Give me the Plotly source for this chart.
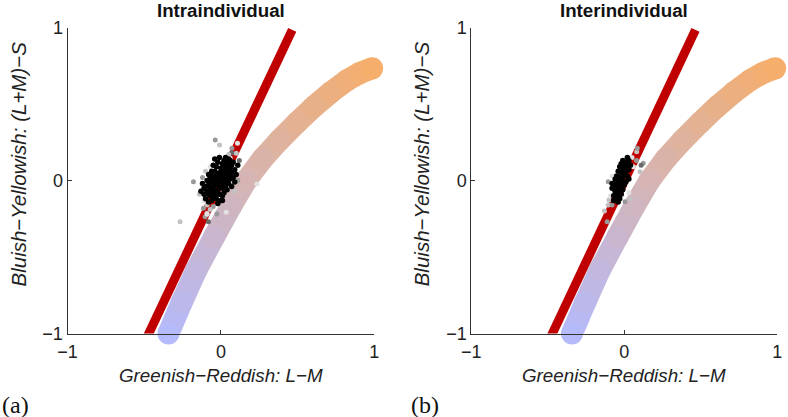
import plotly.graph_objects as go
from plotly.subplots import make_subplots

# ---------------- data ----------------
# model curve (band from bluish to yellowish), same in both panels
curve_x = [-0.342, -0.257, -0.16, -0.045, 0.065, 0.165, 0.27, 0.383, 0.495, 0.605, 0.715, 0.822, 0.91, 0.986]
curve_y = [-1.0, -0.8, -0.585, -0.37, -0.17, 0.0, 0.14, 0.265, 0.378, 0.482, 0.575, 0.655, 0.705, 0.733]

# red model line, same in both panels
red_x = [-0.503, 0.465]
red_y = [-1.07, 0.985]

# panel (a) Intraindividual
a_black_x = [-0.13, -0.12, -0.11, -0.10, -0.10, -0.09, -0.09, -0.08, -0.08, -0.08, -0.07, -0.07, -0.07,
             -0.06, -0.06, -0.06, -0.06, -0.05, -0.05, -0.05, -0.05, -0.04, -0.04, -0.04, -0.04, -0.03,
             -0.03, -0.03, -0.03, -0.02, -0.02, -0.02, -0.02, -0.01, -0.01, -0.01, -0.01, 0.00, 0.00, 0.00,
             0.00, 0.01, 0.01, 0.01, 0.01, 0.02, 0.02, 0.02, 0.02, 0.03, 0.03, 0.03, 0.03, 0.04, 0.04, 0.04,
             0.04, 0.05, 0.05, 0.05, 0.06, 0.06, 0.06, 0.07, 0.07, 0.07, 0.08, 0.08, 0.09, 0.09, 0.10, 0.11,
             -0.05, -0.03, 0.00, 0.03, 0.06, -0.08, -0.02, -0.11, 0.01, 0.05, -0.06, 0.02, -0.04]
a_black_y = [-0.07, -0.02, -0.09, -0.04, -0.12, 0.00, -0.07, -0.14, -0.03, 0.04, -0.10, 0.02, -0.05,
             -0.13, 0.06, -0.01, -0.08, 0.03, -0.04, 0.10, -0.11, 0.14, 0.00, -0.07, 0.06, -0.02,
             0.09, -0.12, 0.03, 0.12, -0.06, 0.01, -0.15, 0.05, -0.03, 0.15, -0.09, 0.08, -0.01, -0.13,
             0.03, 0.11, -0.05, 0.01, -0.10, 0.06, -0.02, 0.13, -0.08, 0.03, 0.09, -0.04, 0.15, 0.00, 0.07, 0.12,
             -0.06, 0.04, 0.10, -0.02, 0.08, 0.01, 0.13, 0.05, -0.04, 0.10, 0.02, 0.12, 0.07, -0.01, 0.04, 0.10,
             -0.07, -0.09, 0.05, 0.06, 0.04, -0.09, 0.04, -0.05, -0.13, 0.14, 0.02, 0.09, -0.03]
a_gray_x = [-0.179, -0.037, -0.009, -0.266, 0.035, -0.026, 0.235, -0.114, -0.091, -0.103, -0.081, 0.072,
            0.10, 0.061, 0.039, 0.108, -0.10, -0.12, -0.07, 0.11, 0.09, -0.05, -0.09, 0.12, -0.11, 0.07,
            -0.14, 0.05, -0.07, -0.09]
a_gray_y = [-0.008, 0.265, 0.232, -0.269, -0.208, -0.219, -0.023, -0.182, -0.214, -0.237, -0.269, 0.21,
            0.178, 0.145, 0.112, 0.243, 0.06, 0.02, 0.09, 0.0, -0.07, -0.17, -0.16, 0.13, -0.13, 0.18,
            -0.09, 0.17, -0.19, -0.22]
a_gray_shade = ['mid', 'mid', 'light', 'light', 'pale', 'mid', 'pale', 'mid', 'light', 'mid', 'dark', 'mid',
                'light', 'pale', 'light', 'pale', 'light', 'mid', 'pale', 'mid', 'light', 'mid', 'light', 'dark',
                'pale', 'dark', 'light', 'light', 'light', 'pale']

# panel (b) Interindividual
b_black_x = [-0.08, -0.07, -0.07, -0.06, -0.06, -0.06, -0.05, -0.05, -0.05, -0.04, -0.04, -0.04, -0.04,
             -0.03, -0.03, -0.03, -0.03, -0.02, -0.02, -0.02, -0.02, -0.01, -0.01, -0.01, -0.01, 0.00, 0.00,
             0.00, 0.01, 0.01, 0.01, 0.02, 0.02, 0.03, 0.03, 0.03, 0.04, -0.06, -0.03, 0.00, -0.08, -0.05,
             0.02, -0.07]
b_black_y = [-0.05, -0.02, -0.10, 0.01, -0.07, -0.13, -0.04, 0.03, -0.11, -0.01, 0.06, -0.08, -0.14,
             0.02, -0.05, 0.09, -0.12, 0.05, -0.02, 0.11, -0.09, 0.00, 0.08, -0.06, 0.13, 0.03, 0.10,
             -0.03, 0.06, 0.12, -0.01, 0.09, 0.03, 0.07, 0.13, 0.01, 0.10, -0.03, -0.02, 0.06, -0.02, -0.13,
             0.15, -0.13]
b_gray_x = [-0.105, 0.081, 0.124, 0.103, -0.028, -0.105, 0.005, -0.08, -0.112, 0.085, -0.10, 0.06, 0.04,
            0.05, -0.09, -0.13, 0.11, 0.08, -0.08, 0.03]
b_gray_y = [-0.008, 0.188, 0.112, 0.058, 0.112, -0.16, -0.139, -0.16, -0.269, 0.21, -0.127, 0.09, -0.12,
            0.15, -0.10, -0.20, 0.10, 0.13, 0.03, -0.08]
b_gray_shade = ['mid', 'light', 'mid', 'light', 'pale', 'light', 'mid', 'mid', 'mid', 'mid', 'light', 'pale',
                'light', 'pale', 'pale', 'light', 'dark', 'mid', 'pale', 'pale']

tick_vals = [-1, 0, 1]
tick_text = ['\u22121', '0', '1']
titles = ['Intraindividual', 'Interindividual']
panel_tags = ['(a)', '(b)']
x_title = 'Greenish\u2212Reddish: L\u2212M'
y_title = 'Bluish\u2212Yellowish: (L+M)\u2212S'

# ---------------- styling ----------------
SHADES = {'dark': '#6a6a6a', 'mid': '#999999', 'light': '#c2c2c2', 'pale': '#e2e2e2'}
C0 = (181, 186, 250)
C1 = (245, 174, 108)
RED = '#c00000'
W, H = 788, 417
# layout positions given in window pixels
XD = [(67.5, 374.3), (471.3, 777.3)]
YD = (27.5, 333.5)


def px(X):
    return X / W


def py(Y):
    return 1 - Y / H


def mix(t):
    r, g, b = (round(C0[i] + (C1[i] - C0[i]) * t) for i in range(3))
    return f'rgb({r},{g},{b})'


# arc-length fraction along the curve for colours
seg = [((curve_x[i + 1] - curve_x[i]) ** 2 + (curve_y[i + 1] - curve_y[i]) ** 2) ** 0.5
       for i in range(len(curve_x) - 1)]
tot = sum(seg)
frac = [0.0]
for s in seg:
    frac.append(frac[-1] + s / tot)

fig = make_subplots(rows=1, cols=2)

panels = [
    (a_black_x, a_black_y, a_gray_x, a_gray_y, a_gray_shade),
    (b_black_x, b_black_y, b_gray_x, b_gray_y, b_gray_shade),
]

for p, (bx, by, gx, gy, gs) in enumerate(panels):
    col = p + 1
    for i in range(len(curve_x) - 1):
        fig.add_trace(go.Scatter(x=curve_x[i:i + 2], y=curve_y[i:i + 2], mode='lines',
                                 line=dict(color=mix((frac[i] + frac[i + 1]) / 2), width=22),
                                 hoverinfo='skip', showlegend=False), row=1, col=col)
    fig.add_trace(go.Scatter(x=curve_x, y=curve_y, mode='markers', cliponaxis=False,
                             marker=dict(size=22, color=[mix(f) for f in frac], line=dict(width=0)),
                             hoverinfo='skip', showlegend=False), row=1, col=col)
    fig.add_trace(go.Scatter(x=red_x, y=red_y, mode='lines', line=dict(color=RED, width=9),
                             hoverinfo='skip', showlegend=False), row=1, col=col)
    fig.add_trace(go.Scatter(x=gx, y=gy, mode='markers',
                             marker=dict(size=5, color=[SHADES[s] for s in gs], line=dict(width=0)),
                             showlegend=False), row=1, col=col)
    fig.add_trace(go.Scatter(x=bx, y=by, mode='markers',
                             marker=dict(size=5.5, color='#000000', line=dict(width=0)),
                             showlegend=False), row=1, col=col)

ax_common = dict(range=[-1, 1], tickvals=tick_vals, ticktext=tick_text, ticks='inside', ticklen=4,
                 tickcolor='#333333', tickwidth=1, showline=True, linecolor='#333333', linewidth=1,
                 showgrid=False, zeroline=False, automargin=False,
                 tickfont=dict(family='Liberation Sans', size=18, color='#222222'))

for p in range(2):
    xa = 'xaxis' if p == 0 else 'xaxis2'
    ya = 'yaxis' if p == 0 else 'yaxis2'
    fig.layout[xa].update(domain=[px(XD[p][0]), px(XD[p][1])], ticklabelstandoff=2, **ax_common)
    fig.layout[ya].update(domain=[py(YD[1]), py(YD[0])], **ax_common)

annos = []
for p in range(2):
    cxw = (XD[p][0] + XD[p][1]) / 2
    annos.append(dict(text=f'<b>{titles[p]}</b>', x=px(cxw), y=py(11), xref='paper', yref='paper',
                      xanchor='center', yanchor='middle', showarrow=False,
                      font=dict(family='Liberation Sans', size=18.7, color='#111111')))
    annos.append(dict(text=f'<i>{x_title}</i>', x=px(cxw), y=py(375), xref='paper', yref='paper',
                      xanchor='center', yanchor='middle', showarrow=False,
                      font=dict(family='Liberation Sans', size=18.8, color='#222222')))
    annos.append(dict(text=f'<i>{y_title}</i>', x=px(XD[p][0] - 50), y=py(164),
                      xref='paper', yref='paper', xanchor='center', yanchor='middle',
                      textangle=-90, showarrow=False,
                      font=dict(family='Liberation Sans', size=20.5, color='#222222')))
    annos.append(dict(text=panel_tags[p], x=px(0 if p == 0 else 409), y=py(405),
                      xref='paper', yref='paper', xanchor='left', yanchor='middle', showarrow=False,
                      font=dict(family='Liberation Serif', size=24, color='#111111')))

fig.update_layout(width=W, height=H, margin=dict(l=0, r=0, t=0, b=0, autoexpand=False),
                  paper_bgcolor='white', plot_bgcolor='white', annotations=annos,
                  showlegend=False)

fig.write_html('out.html', config={'displayModeBar': False},
               post_script="document.body.style.margin='0';document.body.style.padding='0';")
